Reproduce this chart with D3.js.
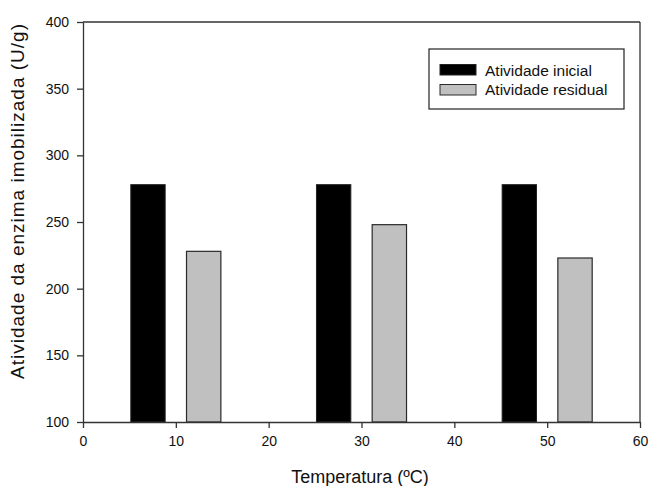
<!DOCTYPE html>
<html>
<head>
<meta charset="utf-8">
<script src="https://cdn.jsdelivr.net/npm/d3@7"></script>
<style>
  body { margin: 0; background: #fff; }
  text { font-family: "Liberation Sans", Arial, sans-serif; fill: #111; }
</style>
</head>
<body>
<svg id="chart" width="649" height="486"></svg>
<script>
// data
const temperatures = [10, 30, 50];
const initialActivity = [278, 278, 278];
const residualActivity = [228, 248, 223];
const seriesNames = ['Atividade inicial', 'Atividade residual'];
const xTicks = [0, 10, 20, 30, 40, 50, 60];
const yTicks = [100, 150, 200, 250, 300, 350, 400];

var svg = d3.select('#chart');
var margin = { top: 22, right: 9, bottom: 64, left: 83 };
var width = 649 - margin.left - margin.right;
var height = 486 - margin.top - margin.bottom;

var chart = svg.append('g')
    .attr('transform', 'translate(' + margin.left + ',' + margin.top + ')');

var x = d3.scaleLinear().domain([0, 60]).range([0, width]);
var y = d3.scaleLinear().domain([100, 400]).range([height, 0]);

var offset = 3;     // bars sit either side of the temperature
var barW = 3.7;     // bar width in x units

var rows = temperatures.map((t, i) => ({ t: t, a: initialActivity[i], r: residualActivity[i] }));

// black bars
chart.selectAll('.bar-a')
    .data(rows)
    .enter().append('rect')
    .attr('x', d => x(d.t - offset - barW / 2))
    .attr('y', d => y(d.a))
    .attr('width', d => x(barW) - x(0))
    .attr('height', d => y(100) - y(d.a))
    .attr('fill', '#000')
    .attr('stroke', '#222')
    .attr('stroke-width', 1);

// gray bars
chart.selectAll('.bar-r')
    .data(rows)
    .enter().append('rect')
    .attr('x', d => x(d.t + offset - barW / 2))
    .attr('y', d => y(d.r))
    .attr('width', d => x(barW) - x(0))
    .attr('height', d => y(100) - y(d.r))
    .attr('fill', '#c0c0c0')
    .attr('stroke', '#2a2a2a')
    .attr('stroke-width', 1.2);

// axes
var xAxis = chart.append('g')
    .attr('transform', 'translate(0,' + height + ')')
    .call(d3.axisBottom(x).tickValues(xTicks).tickSize(6).tickSizeOuter(0).tickPadding(8));
var yAxis = chart.append('g')
    .call(d3.axisLeft(y).tickValues(yTicks).tickSize(6).tickSizeOuter(0).tickPadding(8));

[xAxis, yAxis].forEach(function (g) {
    g.selectAll('path, line').attr('stroke', '#333').attr('stroke-width', 1.3);
    g.selectAll('text').style('font-size', '14px').style('font-family', '"Liberation Sans", Arial, sans-serif').attr('fill', '#111');
});

// frame top and right
chart.append('line').attr('x1', 0).attr('x2', width).attr('y1', 0).attr('y2', 0)
    .attr('stroke', '#333').attr('stroke-width', 1.3);
chart.append('line').attr('x1', width).attr('x2', width).attr('y1', 0).attr('y2', height)
    .attr('stroke', '#333').attr('stroke-width', 1.3);

// axis titles
svg.append('text')
    .attr('x', 360)
    .attr('y', 483)
    .attr('text-anchor', 'middle')
    .style('font-size', '18px')
    .text('Temperatura (ºC)');

svg.append('text')
    .attr('transform', 'translate(24,201) rotate(-90)')
    .attr('text-anchor', 'middle')
    .style('font-size', '19px')
    .style('letter-spacing', '1px')
    .text('Atividade da enzima imobilizada (U/g)');

// legend
var legend = svg.append('g');
legend.append('rect')
    .attr('x', 429).attr('y', 49).attr('width', 195).attr('height', 60)
    .attr('fill', '#fff').attr('stroke', '#333').attr('stroke-width', 1.3);
var swatch = [{ fill: '#000', stroke: '#222' }, { fill: '#c0c0c0', stroke: '#2a2a2a' }];
seriesNames.forEach(function (name, i) {
    legend.append('rect')
        .attr('x', 440).attr('y', 64.5 + i * 20).attr('width', 36).attr('height', 10.5)
        .attr('fill', swatch[i].fill).attr('stroke', swatch[i].stroke).attr('stroke-width', 1);
    legend.append('text')
        .attr('x', 485).attr('y', 75.5 + i * 19.5)
        .style('font-size', '15.5px')
        .text(name);
});
</script>
</body>
</html>
